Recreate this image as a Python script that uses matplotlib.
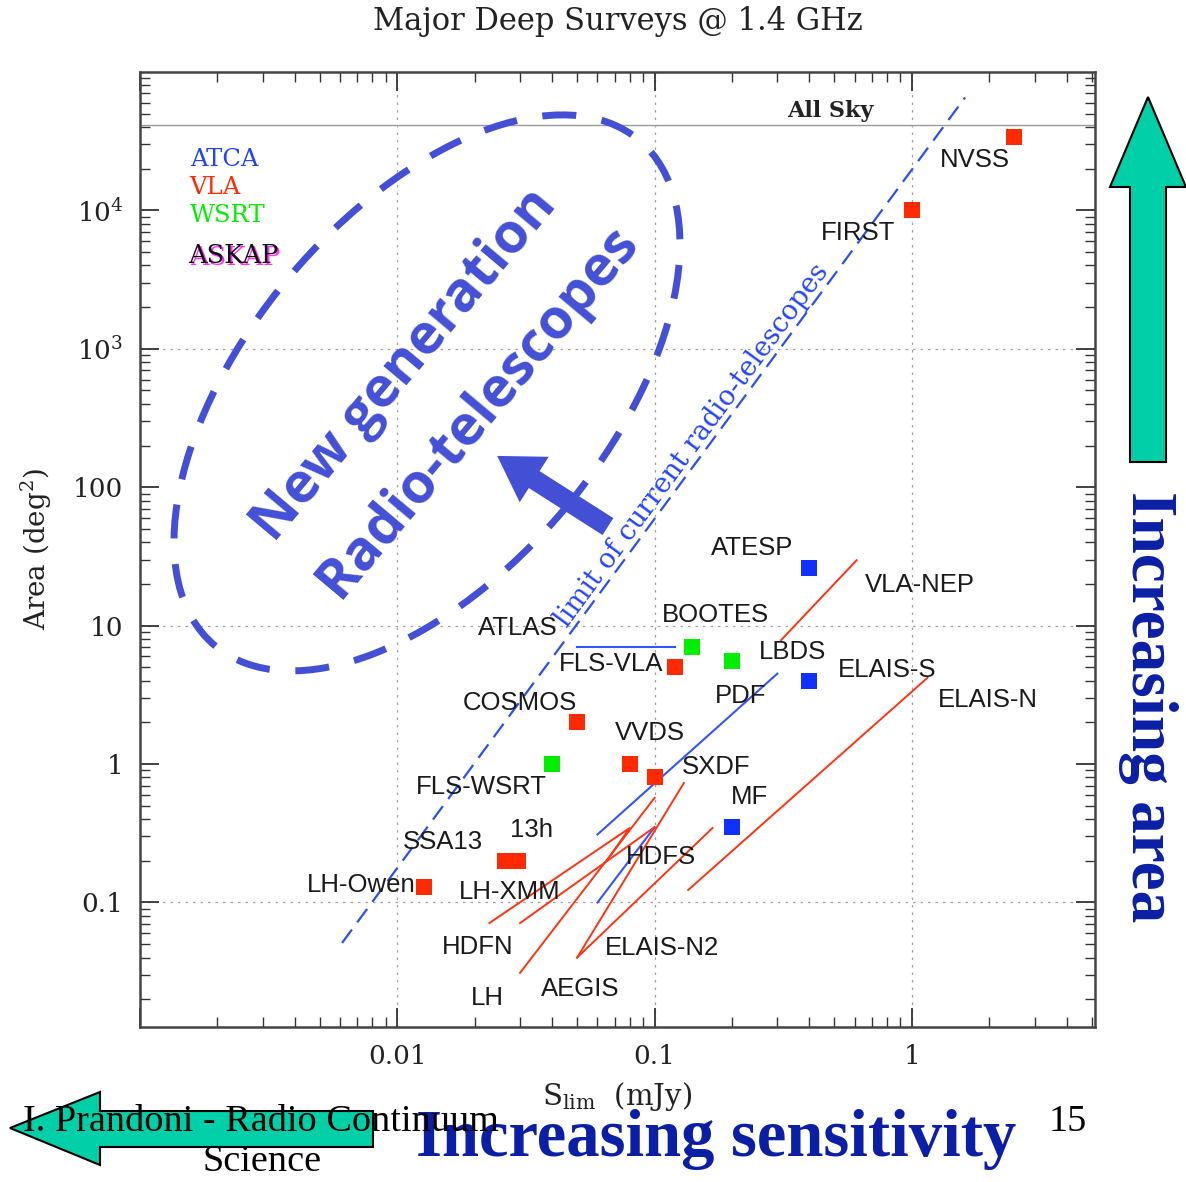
import matplotlib
matplotlib.use('Agg')
import matplotlib.pyplot as plt
import matplotlib.patches as mpatches
from matplotlib.ticker import FixedLocator, LogLocator, NullFormatter
from matplotlib.transforms import offset_copy

plt.rcParams['mathtext.fontset'] = 'dejavuserif'
plt.rcParams['mathtext.default'] = 'regular'

W, H = 1186, 1182

# single-field surveys: flux limit (mJy), area (deg^2)
atca_flux = [0.4, 0.4, 0.2]
atca_area = [26, 4.0, 0.35]
vla_flux = [2.5, 1.0, 0.12, 0.05, 0.08, 0.1, 0.0262, 0.0294, 0.0127]
vla_area = [33700, 10000, 5.0, 2.0, 1.0, 0.8, 0.2, 0.2, 0.13]
wsrt_flux = [0.14, 0.2, 0.04]
wsrt_area = [7.0, 5.6, 1.0]

# surveys whose area changes with flux limit
atca_tracks = [
    ([0.05, 0.12], [7.0, 7.0]),          # ATLAS
    ([0.06, 0.30], [0.31, 4.5]),         # PDF
    ([0.06, 0.10], [0.10, 0.35]),        # HDFS
]
vla_tracks = [
    ([0.31, 0.61], [7.85, 29.7]),        # VLA-NEP
    ([0.135, 1.15], [0.123, 4.2]),       # ELAIS-N
    ([0.0228, 0.080, 0.0675], [0.071, 0.345, 0.22]),  # HDFN
    ([0.030, 0.10], [0.071, 0.35]),      # LH-XMM
    ([0.030, 0.10], [0.031, 0.57]),      # LH
    ([0.050, 0.13], [0.040, 0.73]),      # AEGIS
    ([0.050, 0.168], [0.040, 0.345]),    # ELAIS-N2
]

limit_flux = [0.0061, 1.61]
limit_area = [0.051, 65500]
all_sky = 41253

labels = ['NVSS', 'FIRST', 'ATESP', 'VLA-NEP', 'BOOTES', 'ATLAS', 'FLS-VLA', 'LBDS',
          'ELAIS-S', 'PDF', 'ELAIS-N', 'COSMOS', 'VVDS', 'SXDF', 'FLS-WSRT', 'MF',
          '13h', 'SSA13', 'HDFS', 'LH-Owen', 'LH-XMM', 'HDFN', 'ELAIS-N2', 'AEGIS', 'LH']
label_x = [1.76, 0.62, 0.24, 1.07, 0.173, 0.0293, 0.0675, 0.344,
           0.80, 0.216, 1.98, 0.0299, 0.0957, 0.173, 0.0212, 0.234,
           0.0332, 0.0151, 0.1055, 0.00724, 0.0273, 0.0205, 0.107, 0.0515, 0.0224]
label_y = [23000, 6820, 36.3, 19.6, 11.9, 9.6, 5.27, 6.44,
           4.77, 3.10, 2.90, 2.76, 1.68, 0.95, 0.68, 0.578,
           0.333, 0.273, 0.213, 0.134, 0.119, 0.0478, 0.0469, 0.0237, 0.0204]

red = '#ff2a00'
blue = '#1030ff'
green = '#00ee00'
ngblue = '#4350d6'
darkblue = '#0b1fa6'
teal = '#00cfa8'


def px(x, y):
    return x / W, 1 - y / H


fig = plt.figure(figsize=(W / 100, H / 100), dpi=100)
ax = fig.add_axes([140 / W, 1 - 1027 / H, 955 / W, 955 / H])
ax.set_xscale('log')
ax.set_yscale('log')
ax.set_xlim(0.001, 5.15)
ax.set_ylim(0.0126, 1e5)

for s in ax.spines.values():
    s.set_linewidth(1.8)
    s.set_color('#444444')

ax.xaxis.set_major_locator(FixedLocator([0.001, 0.01, 0.1, 1]))
ax.set_xticklabels(['', '0.01', '0.1', '1'])
ax.yaxis.set_major_locator(FixedLocator([0.1, 1, 10, 100, 1000, 1e4]))
ax.set_yticklabels(['0.1', '1', '10', '100', '10$^3$', '10$^4$'])
ax.xaxis.set_minor_locator(LogLocator(base=10, subs=range(2, 10), numticks=20))
ax.yaxis.set_minor_locator(LogLocator(base=10, subs=range(2, 10), numticks=20))
ax.xaxis.set_minor_formatter(NullFormatter())
ax.yaxis.set_minor_formatter(NullFormatter())
ax.tick_params(which='both', direction='in', top=True, right=True, color='#333333')
ax.tick_params(which='major', length=14, width=1.3, pad=12, labelsize=19)
ax.tick_params(which='minor', length=7, width=1.0)
for t in ax.get_xticklabels() + ax.get_yticklabels():
    t.set_family('DejaVu Serif')
    t.set_color('#222222')

# dotted grid at alternate decades
for gx in [0.01, 0.1, 1]:
    ax.axvline(gx, color='#a0a0a0', lw=0.9, ls=(0, (2, 4)), zorder=0)
for gy in [0.1, 10, 1000]:
    ax.axhline(gy, color='#a0a0a0', lw=0.9, ls=(0, (2, 4)), zorder=0)

ax.axhline(all_sky, color='#999999', lw=1.0, zorder=1)
ax.text(0.48, 51900, 'All Sky', family='DejaVu Serif', fontsize=16, fontweight='bold',
        color='#222222', ha='center', va='center')

ax.plot(limit_flux, limit_area, color='#2a50f0', lw=1.6, ls=(0, (7.5, 4.0)), zorder=2)
ax.text(0.1406, 201, 'limit of current radio-telescopes', family='DejaVu Serif',
        fontsize=19.5, color='#2244ff', rotation=53.7, ha='center', va='center',
        rotation_mode='anchor')

for fx, ar in atca_tracks:
    ax.plot(fx, ar, color='#3355ff', lw=1.5, zorder=3)
for fx, ar in vla_tracks:
    ax.plot(fx, ar, color='#ff3311', lw=1.4, zorder=3)

ax.plot(atca_flux, atca_area, 's', color=blue, ms=11.5, mew=0, zorder=4)
ax.plot(vla_flux, vla_area, 's', color=red, ms=11.5, mew=0, zorder=4)
ax.plot(wsrt_flux, wsrt_area, 's', color=green, ms=11.5, mew=0, zorder=4)

for name, lx, ly in zip(labels, label_x, label_y):
    ax.text(lx, ly, name, family='Liberation Sans', fontsize=18.5, color='#1a1a1a',
            ha='center', va='center', zorder=5)

# telescope key
for txt, col, yy in [('ATCA', '#2244ff', 0.908), ('VLA', red, 0.879), ('WSRT', green, 0.850)]:
    ax.text(0.052, yy, txt, transform=ax.transAxes, family='DejaVu Serif',
            fontsize=17.5, color=col, va='center')
shadow = offset_copy(ax.transAxes, fig=fig, x=2, y=-2, units='dots')
ax.text(0.050, 0.808, 'ASKAP', transform=shadow, family='DejaVu Serif',
        fontsize=18.5, color='#ff33ff', va='center')
ax.text(0.050, 0.808, 'ASKAP', transform=ax.transAxes, family='DejaVu Serif',
        fontsize=18.5, color='#111111', va='center')

# next generation region
ax.add_patch(mpatches.Ellipse((0.3005, 0.664), 0.691, 0.377, angle=50,
                              transform=ax.transAxes, fill=False, ec=ngblue,
                              lw=5, ls=(0, (4.9, 3.7)), zorder=6))
ax.text(0.2775, 0.693, 'New generation', transform=ax.transAxes, family='Open Sans',
        fontweight='bold', fontsize=40, color=ngblue, rotation=50,
        ha='center', va='center', rotation_mode='anchor', zorder=6)
ax.text(0.354, 0.644, 'Radio-telescopes', transform=ax.transAxes, family='Open Sans',
        fontweight='bold', fontsize=40, color=ngblue, rotation=50,
        ha='center', va='center', rotation_mode='anchor', zorder=6)
ax.add_patch(mpatches.FancyArrow(0.490, 0.524, -0.116, 0.074, width=0.021,
                                 head_width=0.0565, head_length=0.046,
                                 length_includes_head=True, transform=ax.transAxes,
                                 color=ngblue, lw=0, zorder=6))

ax.set_title('Major Deep Surveys @ 1.4 GHz', family='DejaVu Serif', fontsize=22,
             color='#222222', pad=30)
ax.set_ylabel('Area (deg$^2$)', family='DejaVu Serif', fontsize=20, color='#222222',
              labelpad=14)
ax.set_xlabel(r'S$_{\rm lim}$  (mJy)', family='DejaVu Serif', fontsize=21,
              color='#222222', labelpad=8)

# page decorations
up = [(1148, 97), (1186, 187), (1166, 187), (1166, 462), (1130, 462), (1130, 187), (1110, 187)]
fig.patches.append(mpatches.Polygon([px(*p) for p in up], closed=True, fc=teal,
                                    ec='black', lw=1.5, transform=fig.transFigure))
left = [(10, 1128), (100, 1092), (100, 1111), (373, 1111), (373, 1147), (100, 1147), (100, 1165)]
fig.patches.append(mpatches.Polygon([px(*p) for p in left], closed=True, fc=teal,
                                    ec='black', lw=1.5, transform=fig.transFigure))

fig.text(*px(1148, 707), 'Increasing area', family='Liberation Serif', fontweight='bold',
         fontsize=47, color=darkblue, rotation=-90, ha='center', va='center')
fig.text(*px(716, 1140), 'Increasing sensitivity', family='Liberation Serif',
         fontweight='bold', fontsize=48, color=darkblue, ha='center', va='center')
fig.text(*px(261, 1122), 'I. Prandoni - Radio Continuum', family='Liberation Serif',
         fontsize=27.5, color='black', ha='center', va='center', zorder=10)
fig.text(*px(262, 1162), 'Science', family='Liberation Serif',
         fontsize=27.5, color='black', ha='center', va='center', zorder=10)
fig.text(*px(1068, 1122), '15', family='Liberation Serif',
         fontsize=27.5, color='black', ha='center', va='center')

fig.savefig('out.png', dpi=100)
